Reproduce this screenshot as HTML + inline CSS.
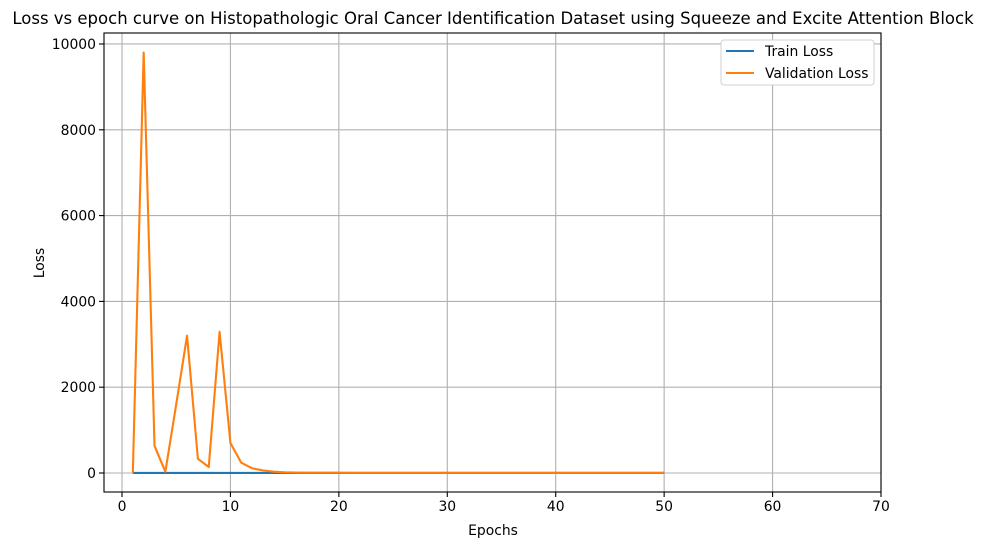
<!DOCTYPE html>
<html><head><meta charset="utf-8"><style>
body{margin:0;background:#fff;}
svg text{font-family:"DejaVu Sans","Liberation Sans",sans-serif;fill:#000;}
</style></head><body>
<svg id="chart" width="987" height="547" xmlns="http://www.w3.org/2000/svg"></svg>
<script>
const epochs = Array.from({length:50},(_,i)=>i+1);
const trainLoss = [0.9,0.6,0.5,0.45,0.4,0.38,0.36,0.35,0.34,0.33,0.32,0.31,0.3,0.3,0.29,0.29,0.28,0.28,0.27,0.27,0.27,0.26,0.26,0.26,0.25,0.25,0.25,0.25,0.24,0.24,0.24,0.24,0.23,0.23,0.23,0.23,0.23,0.22,0.22,0.22,0.22,0.22,0.21,0.21,0.21,0.21,0.21,0.2,0.2,0.2];
const valLoss = [5,9800,630,30,1600,3200,330,140,3290,700,240,110,60,30,15,10,8,7,6,6,5,5,5,5,5,5,4,4,4,4,4,4,4,4,4,4,4,4,4,4,4,4,4,4,4,4,4,4,4,4];
const xTicks = [0,10,20,30,40,50,60,70];
const yTicks = [0,2000,4000,6000,8000,10000];

const L=104,R=881,T=33,B=492;
const xMin=-1.66,xMax=70,yMin=-443,yMax=10256;
const sx=v=>L+(v-xMin)/(xMax-xMin)*(R-L);
const sy=v=>B-(v-yMin)/(yMax-yMin)*(B-T);
const svg=document.getElementById('chart');
const NS='http://www.w3.org/2000/svg';
function mk(tag,attrs,parent){const e=document.createElementNS(NS,tag);for(const k in attrs)e.setAttribute(k,attrs[k]);(parent||svg).appendChild(e);return e;}

xTicks.forEach(t=>{
  const g=mk('line',{x1:sx(t),x2:sx(t),y1:T,y2:B,stroke:'#b0b0b0','stroke-width':1.1});
  
  
  mk('line',{x1:sx(t),x2:sx(t),y1:B,y2:B+5,stroke:'#000','stroke-width':1.1});
  const tx=mk('text',{x:sx(t),y:B+19,'text-anchor':'middle','font-size':13.9});
  tx.textContent=t;
  
  
});
yTicks.forEach(t=>{
  const g=mk('line',{x1:L,x2:R,y1:sy(t),y2:sy(t),stroke:'#b0b0b0','stroke-width':1.1});
  
  
  mk('line',{x1:L-5,x2:L,y1:sy(t),y2:sy(t),stroke:'#000','stroke-width':1.1});
  const tx=mk('text',{x:L-8,y:sy(t)+5,'text-anchor':'end','font-size':13.9});
  tx.textContent=t;
  
  
});

const p1=mk('polyline',{points:epochs.map((e,i)=>sx(e)+','+sy(trainLoss[i])).join(' '),fill:'none',stroke:'#1f77b4','stroke-width':2.1});


const p2=mk('polyline',{points:epochs.map((e,i)=>sx(e)+','+sy(valLoss[i])).join(' '),fill:'none',stroke:'#ff7f0e','stroke-width':2.1,'stroke-linejoin':'round'});



const fr=mk('rect',{x:L,y:T,width:R-L,height:B-T,fill:'none',stroke:'#000','stroke-width':1.1});



const title=mk('text',{x:493,y:24,'text-anchor':'middle','font-size':16.5});
title.textContent='Loss vs epoch curve on Histopathologic Oral Cancer Identification Dataset using Squeeze and Excite Attention Block';


const xl=mk('text',{x:493,y:535,'text-anchor':'middle','font-size':13.9});
xl.textContent='Epochs';


const yl=mk('text',{x:44,y:263,'text-anchor':'middle','font-size':13.9,transform:'rotate(-90 44 263)'});
yl.textContent='Loss';



const lg=mk('g',{});


mk('rect',{x:721,y:40,width:153,height:45,rx:3,fill:'#fff',stroke:'#d0d0d0','stroke-width':1},lg);
[['Train Loss','#1f77b4',51],['Validation Loss','#ff7f0e',73]].forEach(([n,c,y])=>{
  mk('line',{x1:726,x2:754,y1:y,y2:y,stroke:c,'stroke-width':2.1},lg);
  const t=mk('text',{x:765,y:y+5,'font-size':13.9},lg);
  t.textContent=n;
  
  
});
</script>
</body></html>
